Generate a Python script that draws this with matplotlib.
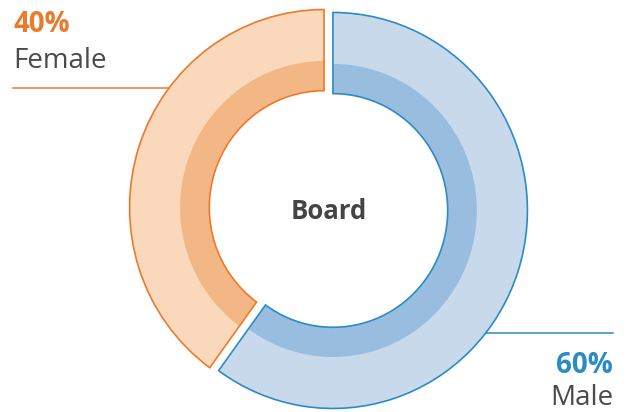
import numpy as np
import matplotlib
matplotlib.use("Agg")
import matplotlib.pyplot as plt

plt.rcParams['font.family'] = ['Open Sans', 'DejaVu Sans']

# data
labels = ['Male', 'Female']
shares = [60, 40]
pct_labels = ['60%', '40%']
center_label = 'Board'

edge_colors = ['#2B8CC4', '#EC7A2C']
light_colors = ['#C9D9EC', '#F9D8BB']
dark_colors = ['#99BDDF', '#F3B685']
text_colors = ['#2B8CC4', '#EC7A2C']

W, H, DPI = 627, 412, 100
RX, RY = 194.5, 198.0   # outer radius in pixels (reference is slightly squashed)
CX, CY = 328.5, 209.0   # donut centre in pixels (from top-left)
band_r = 0.74
hole_r = 0.59
explode = [0.024, 0.024]

fig = plt.figure(figsize=(W / DPI, H / DPI), dpi=DPI)
ax = fig.add_axes([0, 0, 1, 1])


def px(x, y):
    # pixel position (top-left origin) -> data coords
    return (x - CX) / RX, (CY - y) / RY


# light outer ring
ax.pie(shares, radius=1.0, startangle=90, counterclock=False, explode=explode,
       colors=light_colors,
       wedgeprops=dict(width=1.0 - hole_r, linewidth=0))
# darker inner band
ax.pie(shares, radius=band_r, startangle=90, counterclock=False, explode=explode,
       colors=dark_colors,
       wedgeprops=dict(width=band_r - hole_r, linewidth=0))
# outlines on top
wedges, _ = ax.pie(shares, radius=1.0, startangle=90, counterclock=False,
                   explode=explode,
                   wedgeprops=dict(width=1.0 - hole_r, facecolor='none',
                                   linewidth=1.2))
for w, c in zip(wedges, edge_colors):
    w.set_edgecolor(c)

ax.set_xlim(px(0, 0)[0], px(W, 0)[0])
ax.set_ylim(px(0, H)[1], px(0, 0)[1])
ax.set_aspect('auto')
ax.axis('off')

ax.text(*px(CX, 212), center_label, ha='center', va='center',
        fontsize=18.5, fontweight='bold', color='#444444')

# leader lines: from the label to the outer edge of each wedge
theta = np.deg2rad(90 - np.cumsum([0] + shares[:-1]) * 3.6 - np.array(shares) * 1.8)
offs = [(explode[i] * np.cos(theta[i]), explode[i] * np.sin(theta[i])) for i in range(2)]

# Female (left)
_, fy = px(0, 88)
fx_end = offs[1][0] - np.sqrt(1 - (fy - offs[1][1]) ** 2)
ax.plot([px(13, 0)[0], fx_end], [fy, fy], color=edge_colors[1], lw=1.1)
ax.text(*px(13, 32), pct_labels[1], ha='left', va='baseline',
        fontsize=20, fontweight='bold', color=text_colors[1])
ax.text(*px(13, 68), labels[1], ha='left', va='baseline',
        fontsize=20, color='#4A4A4A')

# Male (right)
_, my = px(0, 333)
mx_start = offs[0][0] + np.sqrt(1 - (my - offs[0][1]) ** 2)
ax.plot([mx_start, px(613, 0)[0]], [my, my], color=edge_colors[0], lw=1.1)
ax.text(*px(613, 373), pct_labels[0], ha='right', va='baseline',
        fontsize=20, fontweight='bold', color=text_colors[0])
ax.text(*px(613, 405), labels[0], ha='right', va='baseline',
        fontsize=20, color='#4A4A4A')

fig.savefig('out.png', dpi=DPI)
